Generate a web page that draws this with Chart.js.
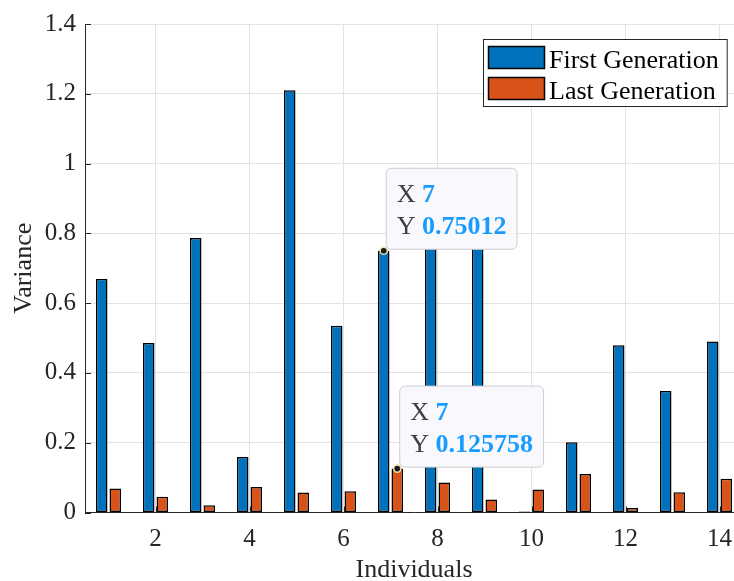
<!DOCTYPE html>
<html>
<head>
<meta charset="utf-8">
<title>Variance per individual</title>
<script src="https://cdn.jsdelivr.net/npm/chart.js@4.4.1/dist/chart.umd.min.js"></script>
<style>
  html, body { margin: 0; padding: 0; background: #fff; overflow: hidden; }
  #wrap { width: 734px; height: 581px; overflow: hidden; }
</style>
</head>
<body>
<div id="wrap"><canvas id="varChart" width="750" height="581"></canvas></div>
<script>
// values
const individuals = ['1', '2', '3', '4', '5', '6', '7', '8', '9', '10', '11', '12', '13', '14'];
const firstGeneration = [0.669, 0.486, 0.787, 0.159, 1.210, 0.535, 0.75012, 0.80, 0.82, 0.003, 0.201, 0.479, 0.348, 0.490];
const lastGeneration = [0.069, 0.045, 0.021, 0.073, 0.057, 0.061, 0.125758, 0.086, 0.037, 0.066, 0.110, 0.013, 0.058, 0.097];
const xTickLabels = ['2', '4', '6', '8', '10', '12', '14'];
const yTickStep = 0.2;
const yMax = 1.4;

// data tips shown on the figure: [dataset, index]
const dataTips = [[0, 6], [1, 6]];

const serif = "'Liberation Serif', 'Times New Roman', serif";
const axisColor = '#262626';
const gridColor = '#e2e2e2';

function drawDataTip(ctx, chart, dsIndex, index) {
    const el = chart.getDatasetMeta(dsIndex).data[index];
    const rows = [['X', individuals[index]], ['Y', String(chart.data.datasets[dsIndex].data[index])]];

    ctx.save();
    let w = 0;
    rows.forEach(r => {
        ctx.font = "26px " + serif;
        const lw = ctx.measureText(r[0] + ' ').width;
        ctx.font = "bold 26px " + serif;
        w = Math.max(w, lw + ctx.measureText(r[1]).width);
    });
    const bw = w + 21, bh = 81;
    const bx = el.x + 2, by = el.y - 2 - bh;

    ctx.beginPath();
    ctx.roundRect(bx + 0.5, by + 0.5, bw, bh, 5);
    ctx.fillStyle = '#f9f9fd';
    ctx.fill();
    ctx.strokeStyle = '#cdcdd3';
    ctx.lineWidth = 1;
    ctx.stroke();

    ctx.textBaseline = 'alphabetic';
    ctx.textAlign = 'left';
    rows.forEach((r, i) => {
        const ty = by + 34.5 + i * 31.5;
        ctx.font = "26px " + serif;
        ctx.fillStyle = '#404040';
        ctx.fillText(r[0], bx + 11, ty);
        const lw = ctx.measureText(r[0] + ' ').width;
        ctx.font = "bold 26px " + serif;
        ctx.fillStyle = '#1a9cff';
        ctx.fillText(r[1], bx + 11 + lw, ty);
    });

    ctx.beginPath();
    ctx.arc(el.x, el.y, 3.6, 0, Math.PI * 2);
    ctx.fillStyle = '#1a1a1a';
    ctx.fill();
    ctx.strokeStyle = '#efe4b0';
    ctx.lineWidth = 1.5;
    ctx.stroke();
    ctx.restore();
}

function drawLegend(ctx, chart) {
    const area = chart.chartArea;
    const sets = chart.data.datasets;
    ctx.save();
    ctx.font = "26px " + serif;
    let tw = 0;
    sets.forEach(ds => { tw = Math.max(tw, ctx.measureText(ds.label).width); });
    const bw = 66 + tw + 8, bh = 67;
    const bx = Math.round(area.right - 16 - bw), by = Math.round(area.top + 15);

    ctx.fillStyle = '#fff';
    ctx.fillRect(bx, by, bw, bh);
    ctx.strokeStyle = axisColor;
    ctx.lineWidth = 1;
    ctx.strokeRect(bx + 0.5, by + 0.5, bw, bh);

    sets.forEach((ds, i) => {
        const sy = by + 7 + i * 31;
        ctx.fillStyle = ds.backgroundColor;
        ctx.fillRect(bx + 5, sy, 57, 23);
        ctx.strokeStyle = '#000';
        ctx.lineWidth = 1.5;
        ctx.strokeRect(bx + 5.5, sy + 0.5, 56, 22);
        ctx.fillStyle = '#000';
        ctx.textBaseline = 'alphabetic';
        ctx.fillText(ds.label, bx + 66, by + 28.5 + i * 31);
    });
    ctx.restore();
}

const matlabExtras = {
    id: 'matlabExtras',
    afterDatasetsDraw(chart) {
        const ctx = chart.ctx;
        const area = chart.chartArea;
        const xs = chart.scales.x, ys = chart.scales.y;

        // inward tick marks
        ctx.save();
        ctx.strokeStyle = axisColor;
        ctx.lineWidth = 1;
        ctx.beginPath();
        ys.ticks.forEach(t => {
            const y = Math.round(ys.getPixelForValue(t.value)) + 0.5;
            ctx.moveTo(area.left, y);
            ctx.lineTo(area.left + 6, y);
        });
        xTickLabels.forEach(lbl => {
            const x = Math.round(xs.getPixelForValue(individuals.indexOf(lbl))) + 0.5;
            ctx.moveTo(x, area.bottom);
            ctx.lineTo(x, area.bottom - 6);
        });
        ctx.stroke();
        ctx.restore();

        dataTips.forEach(d => drawDataTip(ctx, chart, d[0], d[1]));
        drawLegend(ctx, chart);
    }
};

const barStyle = {
    borderColor: '#000',
    borderWidth: 1.5,
    borderSkipped: false,
    categoryPercentage: 0.575,
    barPercentage: 0.85
};

new Chart(document.getElementById('varChart'), {
    type: 'bar',
    data: {
        labels: individuals,
        datasets: [
            Object.assign({ label: 'First Generation', data: firstGeneration, backgroundColor: '#0072BD' }, barStyle),
            Object.assign({ label: 'Last Generation', data: lastGeneration, backgroundColor: '#D95319' }, barStyle)
        ]
    },
    options: {
        responsive: false,
        animation: false,
        devicePixelRatio: 1,
        layout: { padding: { top: 20, right: 7, left: 0, bottom: 0 } },
        plugins: {
            legend: { display: false },
            tooltip: { enabled: false }
        },
        scales: {
            x: {
                grid: {
                    offset: false,
                    drawTicks: false,
                    color: ctx => (xTickLabels.includes(individuals[ctx.index]) ? gridColor : 'rgba(0,0,0,0)')
                },
                border: { color: axisColor, width: 1 },
                ticks: {
                    autoSkip: false,
                    maxRotation: 0,
                    padding: 12,
                    color: axisColor,
                    font: { family: serif, size: 25 },
                    callback: (val, i) => (xTickLabels.includes(individuals[i]) ? individuals[i] : '')
                },
                title: {
                    display: true,
                    text: 'Individuals',
                    color: axisColor,
                    font: { family: serif, size: 26 },
                    padding: { top: 0, bottom: -5 }
                },
                afterFit: scale => { scale.height = 68.5; }
            },
            y: {
                min: 0,
                max: yMax,
                grid: { color: gridColor, drawTicks: false },
                border: { color: axisColor, width: 1 },
                ticks: {
                    stepSize: yTickStep,
                    padding: 9,
                    color: axisColor,
                    font: { family: serif, size: 25 },
                    callback: val => String(Number(val.toFixed(1)))
                },
                title: {
                    display: true,
                    text: 'Variance',
                    color: axisColor,
                    font: { family: serif, size: 26 },
                    padding: { top: 9, bottom: 0 }
                },
                afterFit: scale => { scale.width = 85; }
            }
        }
    },
    plugins: [matlabExtras]
});
</script>
</body>
</html>
